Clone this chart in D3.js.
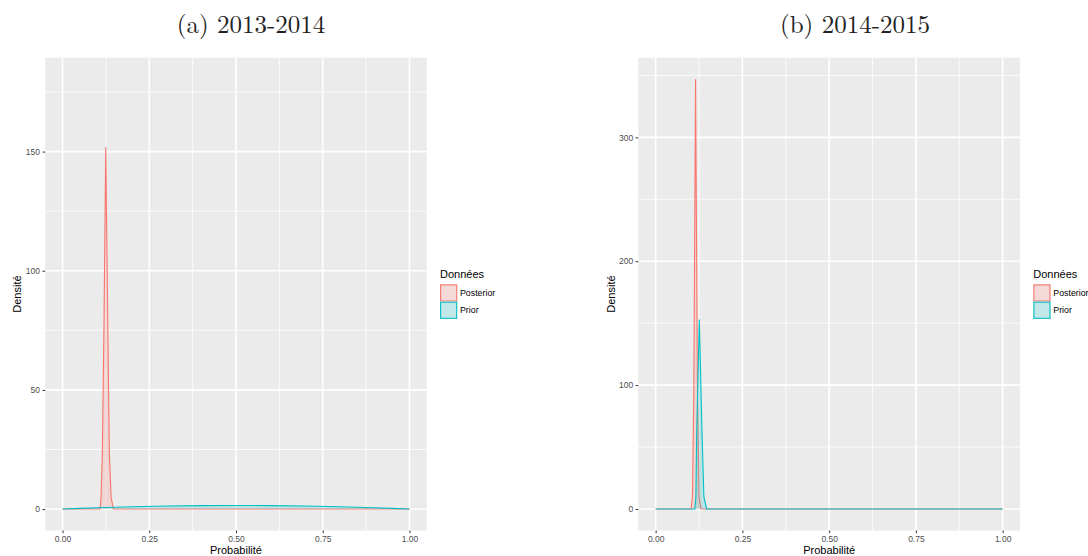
<!DOCTYPE html>
<html><head><meta charset="utf-8">
<script src="https://cdn.jsdelivr.net/npm/d3@7"></script>
<style>body{margin:0;background:#fff}svg{display:block}</style>
</head><body>
<svg id="c" width="1088" height="556"></svg>
<script>
// ---------- DATA ----------
const panelTitles = ["(a) 2013-2014", "(b) 2014-2015"];
const seriesNames = ["Posterior", "Prior"];
const xTicks = [0, 0.25, 0.5, 0.75, 1];
const xTickLabels = ["0.00", "0.25", "0.50", "0.75", "1.00"];
const xMinor = [0.125, 0.375, 0.625, 0.875];
const yTicksA = [0, 50, 100, 150];
const yMinorA = [25, 75, 125, 175];
const yTicksB = [0, 100, 200, 300];
const yMinorB = [50, 150, 250, 350];
const yDomainA = [-9, 189.4];
const yDomainB = [-17.4, 364.3];

// 2013-2014 posterior (x, density)
const postA_x = [0, 0.108, 0.111, 0.1147, 0.1196, 0.1245, 0.1303, 0.1349, 0.140, 0.1464, 1];
const postA_y = [0, 0, 5, 23.6, 79, 151.8, 79, 23.6, 5, 0, 0];
// 2013-2014 prior
const priorA_x = [0, 0.05, 0.1, 0.2, 0.3, 0.4, 0.5, 0.6, 0.7, 0.8, 0.9, 0.95, 1];
const priorA_y = [0, 0.29, 0.54, 0.96, 1.26, 1.44, 1.5, 1.44, 1.26, 0.96, 0.54, 0.29, 0];
// 2014-2015 posterior
const postB_x = [0, 0.102, 0.106, 0.110, 0.115, 0.1205, 0.125, 0.131, 1];
const postB_y = [0, 0, 10, 94, 347, 94, 10, 0, 0];
// 2014-2015 prior
const priorB_x = [0, 0.113, 0.116, 0.1183, 0.1258, 0.1336, 0.139, 0.147, 1];
const priorB_y = [0, 0, 10, 61.5, 153, 61.5, 10, 0, 0];

// ---------- STYLE / LAYOUT ----------
const colors = ["#F8766D", "#00BFC4"];
const panelBg = "#EBEBEB";
const svg = d3.select("#c");
const font = "'Liberation Sans', Arial, sans-serif";

const panels = [
  {title: panelTitles[0], titleX: 251, left: 45.2, right: 426.8, yDomain: yDomainA, yTicks: yTicksA, yMinor: yMinorA,
   series: [[postA_x, postA_y], [priorA_x, priorA_y]], legendX: 440, yTitleX: 17},
  {title: panelTitles[1], titleX: 855, left: 638.3, right: 1020, yDomain: yDomainB, yTicks: yTicksB, yMinor: yMinorB,
   series: [[postB_x, postB_y], [priorB_x, priorB_y]], legendX: 1033.3, yTitleX: 611}
];
const pTop = 57.7, pBottom = 530.5;

panels.forEach(p => {
  const g = svg.append("g");
  const x = d3.scaleLinear().domain([-0.05, 1.05]).range([p.left, p.right]);
  const y = d3.scaleLinear().domain(p.yDomain).range([pBottom, pTop]);

  // title
  g.append("text").attr("x", p.titleX).attr("y", 33).attr("text-anchor", "middle")
    .attr("font-family", "'Latin Modern Roman','CMU Serif','Liberation Serif',serif")
    .attr("font-size", 25).attr("fill", "#222").text(p.title);

  // panel
  g.append("rect").attr("x", p.left).attr("y", pTop).attr("width", p.right - p.left)
    .attr("height", pBottom - pTop).attr("fill", panelBg);
  // minor grid
  p.yMinor.forEach(v => g.append("line").attr("x1", p.left).attr("x2", p.right)
    .attr("y1", y(v)).attr("y2", y(v)).attr("stroke", "#fff").attr("stroke-width", 0.8));
  xMinor.forEach(v => g.append("line").attr("y1", pTop).attr("y2", pBottom)
    .attr("x1", x(v)).attr("x2", x(v)).attr("stroke", "#fff").attr("stroke-width", 0.8));
  // major grid
  p.yTicks.forEach(v => g.append("line").attr("x1", p.left).attr("x2", p.right)
    .attr("y1", y(v)).attr("y2", y(v)).attr("stroke", "#fff").attr("stroke-width", 1.6));
  xTicks.forEach(v => g.append("line").attr("y1", pTop).attr("y2", pBottom)
    .attr("x1", x(v)).attr("x2", x(v)).attr("stroke", "#fff").attr("stroke-width", 1.6));

  // series (Posterior first, Prior on top)
  const area = d3.area().x(d => x(d[0])).y0(y(0)).y1(d => y(d[1]));
  const line = d3.line().x(d => x(d[0])).y(d => y(d[1]));
  p.series.forEach((s, i) => {
    const pts = s[0].map((v, k) => [v, s[1][k]]);
    g.append("path").datum(pts).attr("d", area).attr("fill", colors[i]).attr("fill-opacity", 0.2);
    g.append("path").datum(pts).attr("d", line).attr("fill", "none")
      .attr("stroke", colors[i]).attr("stroke-width", 1.1);
  });

  // axes
  const xa = g.append("g").attr("transform", `translate(0,${pBottom})`)
    .call(d3.axisBottom(x).tickValues(xTicks).tickFormat((d, i) => xTickLabels[i]).tickSize(2.7).tickPadding(2.5));
  const ya = g.append("g").attr("transform", `translate(${p.left},0)`)
    .call(d3.axisLeft(y).tickValues(p.yTicks).tickFormat(d3.format("d")).tickSize(2.7).tickPadding(2.5));
  [xa, ya].forEach(a => {
    a.select(".domain").remove();
    a.selectAll(".tick line").attr("stroke", "#333").attr("stroke-width", 1);
    a.selectAll(".tick text").attr("fill", "#4D4D4D").attr("font-size", 8.5).attr("font-family", font);
  });

  // axis titles
  g.append("text").attr("x", (p.left + p.right) / 2).attr("y", 553.5).attr("text-anchor", "middle")
    .attr("font-family", font).attr("font-size", 11).attr("fill", "#000").text("Probabilité");
  g.append("text").attr("transform", `translate(${p.yTitleX + 4},${(pTop + pBottom) / 2}) rotate(-90)`)
    .attr("text-anchor", "middle").attr("font-family", font).attr("font-size", 11).attr("fill", "#000").text("Densité");

  // legend
  const lg = g.append("g").attr("transform", `translate(${p.legendX},0)`);
  lg.append("text").attr("x", 0).attr("y", 278).attr("font-family", font).attr("font-size", 11)
    .attr("fill", "#000").text("Données");
  seriesNames.forEach((n, i) => {
    const yy = 284.3 + i * 17.3;
    lg.append("rect").attr("x", 0).attr("y", yy).attr("width", 17.3).attr("height", 17.3).attr("fill", "#F2F2F2");
    lg.append("rect").attr("x", 0.6).attr("y", yy + 0.6).attr("width", 16.1).attr("height", 16.1)
      .attr("fill", colors[i]).attr("fill-opacity", 0.2).attr("stroke", colors[i]).attr("stroke-width", 1.1);
    lg.append("text").attr("x", 20).attr("y", yy + 11.8).attr("font-family", font).attr("font-size", 8.8)
      .attr("fill", "#000").text(n);
  });
});
</script>
</body></html>
